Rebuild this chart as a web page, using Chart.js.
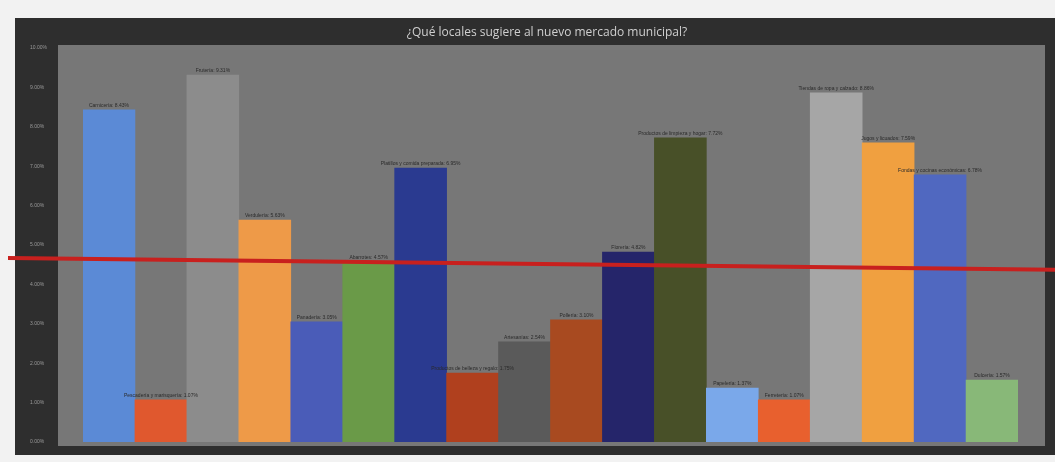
<!DOCTYPE html>
<html>
<head>
<meta charset="utf-8">
<script src="https://cdn.jsdelivr.net/npm/chart.js@4"></script>
<style>
html,body{margin:0;padding:0;background:#f2f2f2;}
canvas{display:block;}
</style>
</head>
<body>
<canvas id="c" width="1055" height="462"></canvas>
<script>
const titulo = "¿Qué locales sugiere al nuevo mercado municipal?";
const categorias = [
  "Carnicería", "Pescadería y marisquería", "Frutería", "Verdulería", "Panadería",
  "Abarrotes", "Platillos y comida preparada", "Productos de belleza y regalo", "Artesanías",
  "Pollería", "Florería", "Productos de limpieza y hogar", "Papelería", "Ferretería",
  "Tiendas de ropa y calzado", "Jugos y licuados", "Fondas y cocinas económicas", "Dulcería"
];
const valores = [8.43, 1.07, 9.31, 5.63, 3.05, 4.57, 6.95, 1.75, 2.54, 3.10, 4.82, 7.72, 1.37, 1.07, 8.86, 7.59, 6.78, 1.57];
const colores = ["#5b8ad6", "#e0582e", "#8c8c8c", "#ee9a48", "#4a5cb8", "#6a9a48", "#2a3a90", "#b0401e", "#5a5a5a",
  "#a84a20", "#25256a", "#485028", "#7aa8ea", "#e8602e", "#a6a6a6", "#f0a040", "#5068c0", "#88b878"];
const ticksY = [0, 1, 2, 3, 4, 5, 6, 7, 8, 9, 10];
const lineaRoja = [4.67, 4.37];

const fondo = {
  id: 'fondo',
  beforeDraw(chart) {
    const ctx = chart.ctx, a = chart.chartArea;
    ctx.save();
    ctx.fillStyle = '#f2f2f2';
    ctx.fillRect(0, 0, chart.width, chart.height);
    ctx.fillStyle = '#2e2e2e';
    ctx.fillRect(15, 18, chart.width - 15, 437);
    ctx.fillStyle = '#777777';
    ctx.fillRect(a.left - 25, a.top - 3, (a.right + 27) - (a.left - 25), a.bottom + 4 - (a.top - 3));
    ctx.fillStyle = '#cfcfcf';
    ctx.font = '12px "Open Sans"';
    ctx.textAlign = 'center';
    ctx.textBaseline = 'middle';
    ctx.fillText(titulo, 547, 33);
    ctx.restore();
  },
  afterDatasetsDraw(chart) {
    const ctx = chart.ctx, meta = chart.getDatasetMeta(0);
    const y = chart.scales.y;
    ctx.save();
    ctx.font = '5px "Liberation Sans"';
    ctx.fillStyle = '#2a2a2a';
    ctx.textAlign = 'center';
    ctx.textBaseline = 'bottom';
    meta.data.forEach((bar, i) => {
      ctx.fillText(categorias[i] + ': ' + valores[i].toFixed(2) + '%', bar.x, bar.y - 2);
    });
    ctx.strokeStyle = '#c8201e';
    ctx.lineWidth = 4;
    ctx.beginPath();
    ctx.moveTo(8, y.getPixelForValue(lineaRoja[0]));
    ctx.lineTo(chart.width, y.getPixelForValue(lineaRoja[1]));
    ctx.stroke();
    ctx.restore();
  }
};

new Chart(document.getElementById('c'), {
  type: 'bar',
  data: {
    labels: categorias,
    datasets: [{
      data: valores,
      backgroundColor: colores,
      borderWidth: 0,
      barPercentage: 1.0,
      categoryPercentage: 1.0
    }]
  },
  options: {
    responsive: false,
    animation: false,
    devicePixelRatio: 1,
    layout: { padding: { left: 30, right: 37, top: 48, bottom: 20 } },
    plugins: { legend: { display: false }, title: { display: false }, tooltip: { enabled: false } },
    scales: {
      x: { display: false },
      y: {
        min: 0, max: 10,
        afterFit(scale) { scale.width = 53; },
        afterBuildTicks(scale) { scale.ticks = ticksY.map(v => ({ value: v })); },
        grid: { display: false, drawTicks: false },
        border: { display: false },
        ticks: {
          padding: 2,
          crossAlign: 'far',
          color: '#9a9a9a',
          font: { size: 5, family: 'Liberation Sans' },
          callback: v => v.toFixed(2) + '%'
        }
      }
    }
  },
  plugins: [fondo]
});
</script>
</body>
</html>
